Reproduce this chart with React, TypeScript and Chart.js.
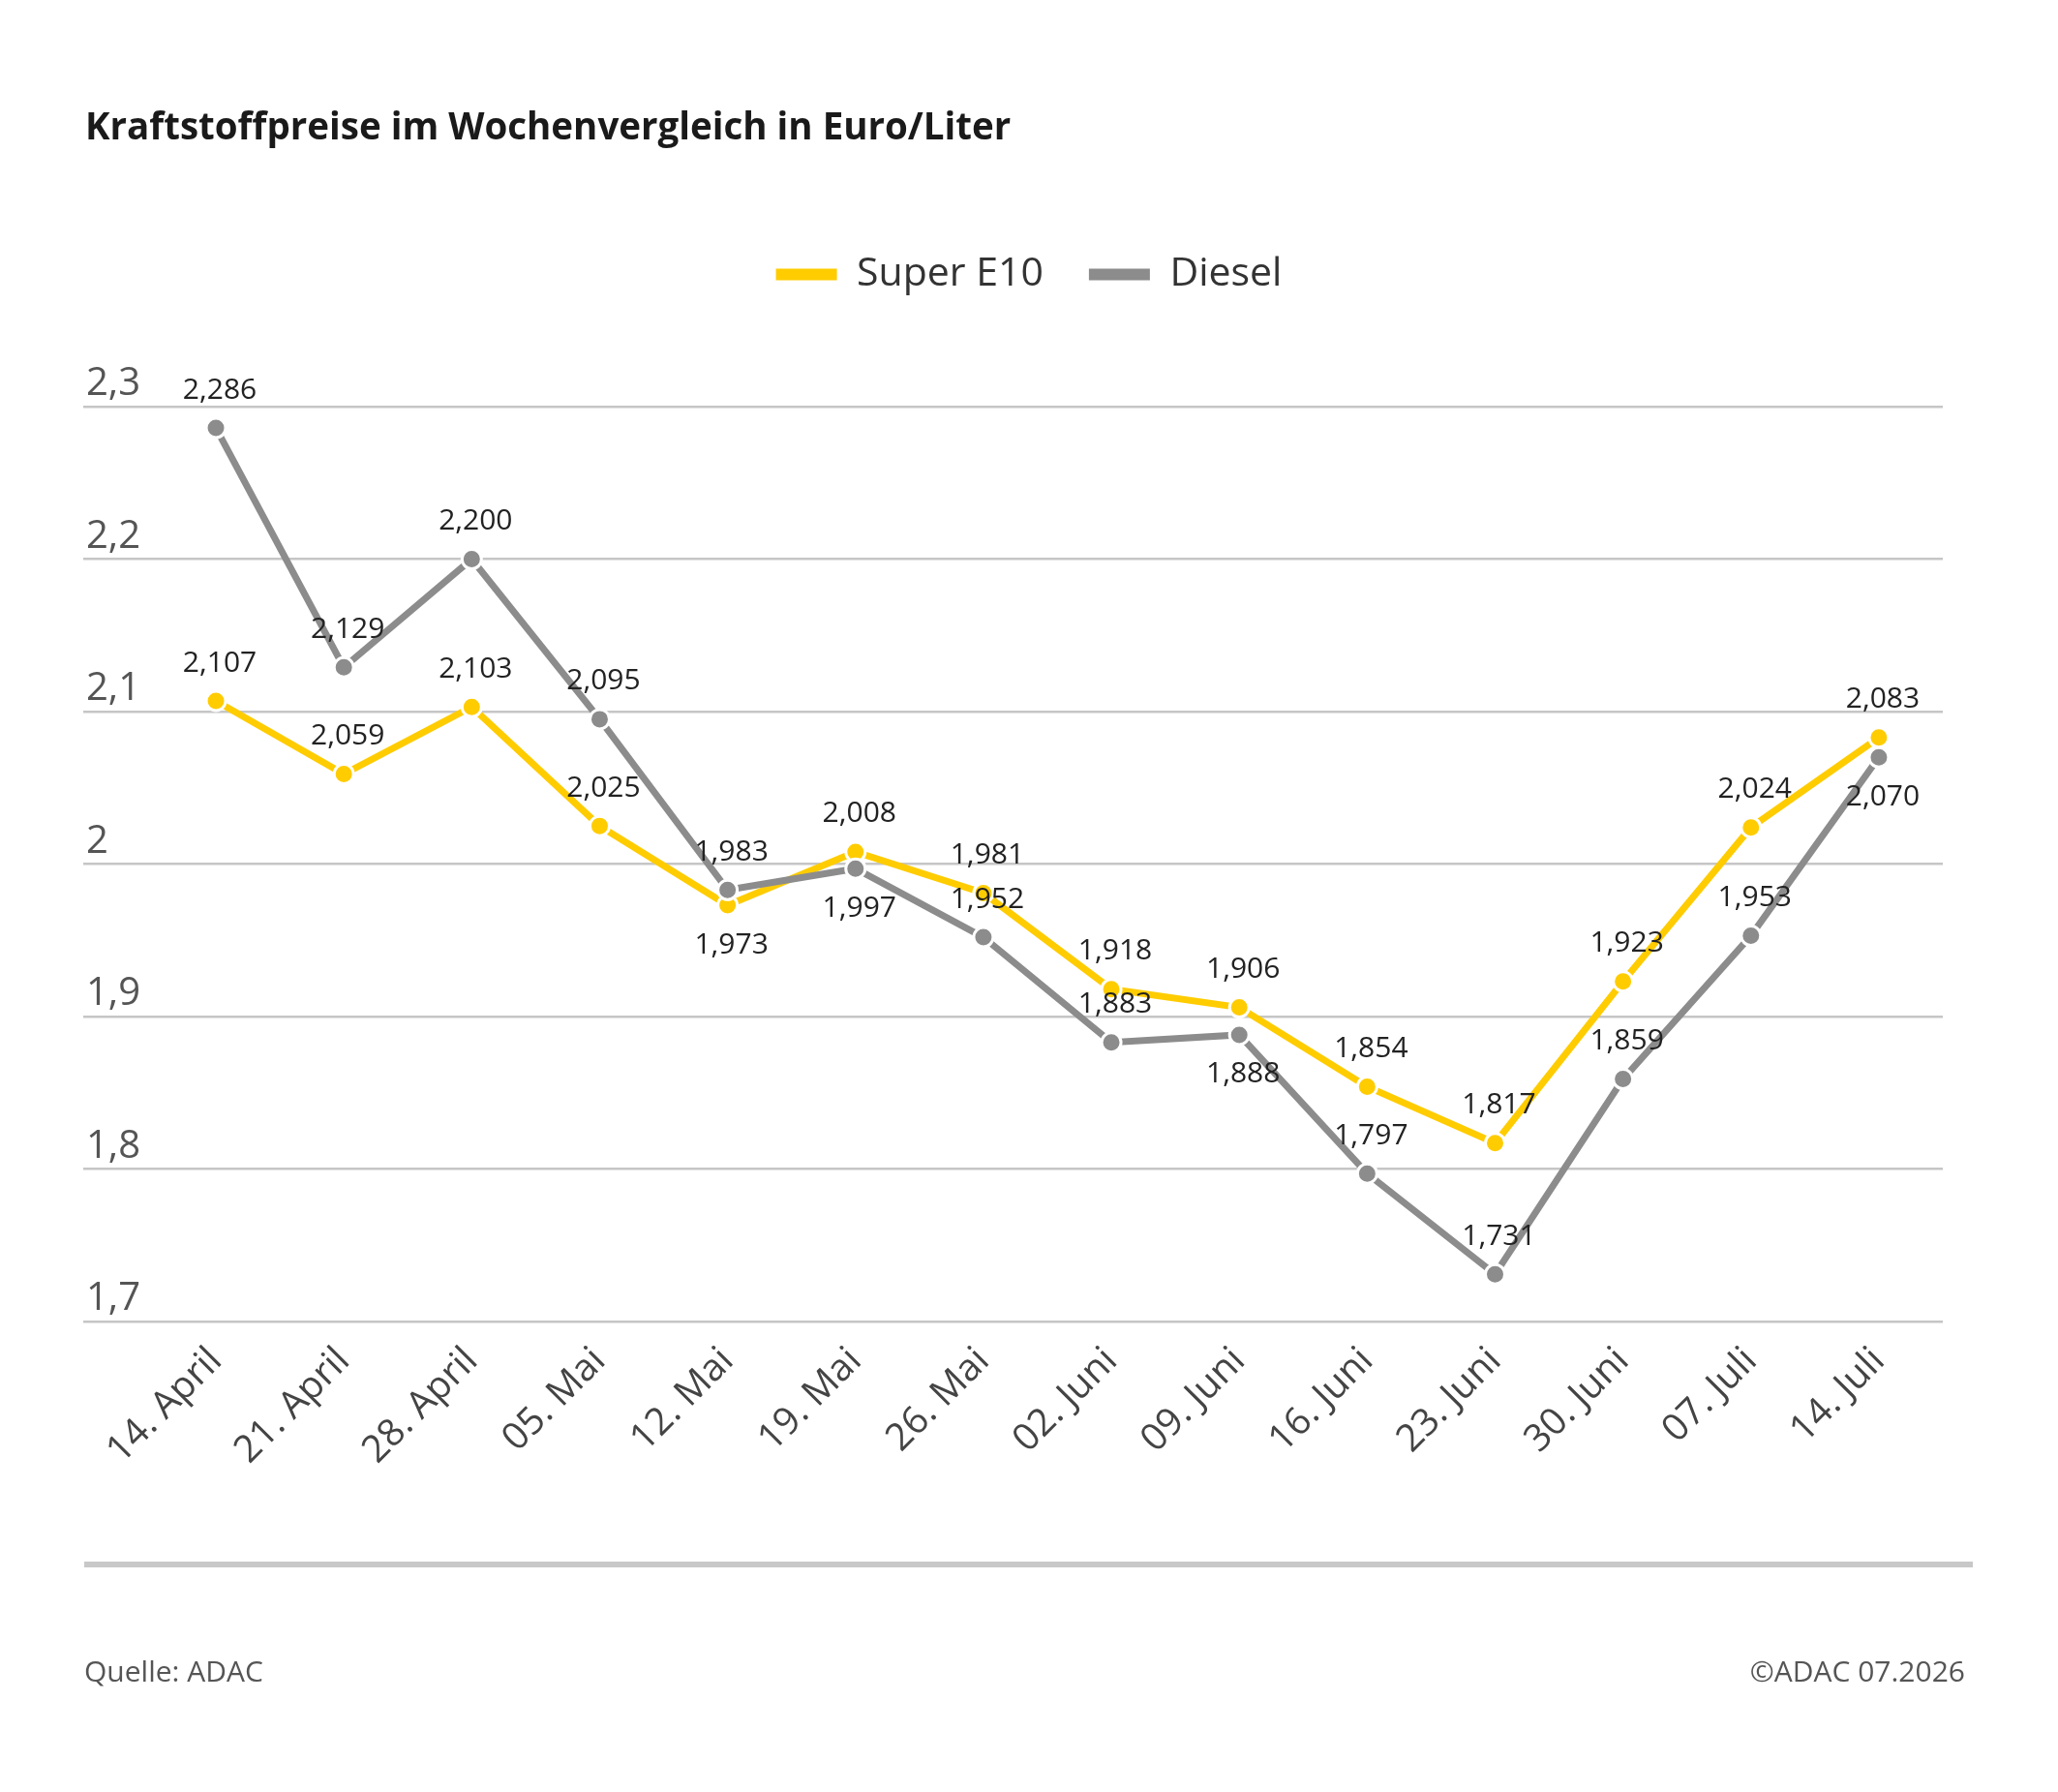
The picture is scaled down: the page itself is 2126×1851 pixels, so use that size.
import { useEffect, useRef } from "react";
import { Chart, registerables, type ChartConfiguration } from "chart.js";

Chart.register(...registerables);

const weeks = [
  "14. April",
  "21. April",
  "28. April",
  "05. Mai",
  "12. Mai",
  "19. Mai",
  "26. Mai",
  "02. Juni",
  "09. Juni",
  "16. Juni",
  "23. Juni",
  "30. Juni",
  "07. Juli",
  "14. Juli",
];

const superE10 = [
  2.107, 2.059, 2.103, 2.025, 1.973, 2.008, 1.981, 1.918, 1.906, 1.854, 1.817,
  1.923, 2.024, 2.083,
];

const diesel = [
  2.286, 2.129, 2.2, 2.095, 1.983, 1.997, 1.952, 1.883, 1.888, 1.797, 1.731,
  1.859, 1.953, 2.07,
];

// indices whose value label sits under the point instead of above it
const superE10LabelsBelow = [4];
const dieselLabelsBelow = [5, 8, 13];

const YELLOW = "#ffcc00";
const GREY = "#8c8c8c";
const FONT = "'Open Sans', sans-serif";

function formatComma(value: number, digits: number) {
  return value.toFixed(digits).replace(".", ",");
}

const valueLabels = {
  id: "valueLabels",
  afterDatasetsDraw(chart: Chart) {
    const { ctx } = chart;
    const below = [superE10LabelsBelow, dieselLabelsBelow];
    ctx.save();
    ctx.font = `30px ${FONT}`;
    ctx.fillStyle = "#222";
    ctx.textAlign = "center";
    ctx.textBaseline = "middle";
    chart.data.datasets.forEach((dataset, di) => {
      const meta = chart.getDatasetMeta(di);
      meta.data.forEach((point, i) => {
        const raw = dataset.data[i] as { y: number };
        const dy = below[di].includes(i) ? 41 : -39;
        ctx.fillText(formatComma(raw.y, 3), point.x + 4, point.y + dy);
      });
    });
    ctx.restore();
  },
};

// extra room between legend and plot area, legend centred on the page
const legendSpacing = {
  id: "legendSpacing",
  beforeInit(chart: Chart) {
    const legend = (chart as any).legend;
    const fit = legend.fit;
    legend.fit = function () {
      fit.call(this);
      this.height += 106;
    };
  },
  afterLayout(chart: Chart) {
    const legend = (chart as any).legend;
    const shift = (chart.width - legend.left - legend.right) / 2;
    legend.left += shift;
    legend.right += shift;
  },
};

export default function App() {
  const canvasRef = useRef<HTMLCanvasElement | null>(null);

  useEffect(() => {
    const canvas = canvasRef.current;
    if (!canvas) return;

    const config: ChartConfiguration<"line"> = {
      type: "line",
      data: {
        datasets: [
          {
            label: "Super E10",
            data: superE10.map((y, x) => ({ x, y })),
            borderColor: YELLOW,
            backgroundColor: YELLOW,
            pointBackgroundColor: YELLOW,
            pointBorderColor: "#fff",
            borderWidth: 7,
            pointRadius: 10,
            pointBorderWidth: 3,
            tension: 0,
            order: 1,
          },
          {
            label: "Diesel",
            data: diesel.map((y, x) => ({ x, y })),
            borderColor: GREY,
            backgroundColor: GREY,
            pointBackgroundColor: GREY,
            pointBorderColor: "#fff",
            borderWidth: 7,
            pointRadius: 10,
            pointBorderWidth: 3,
            tension: 0,
            order: 0,
          },
        ],
      },
      options: {
        animation: false,
        responsive: true,
        maintainAspectRatio: false,
        events: [],
        layout: {
          padding: { left: 86, right: 119, top: 216, bottom: 0 },
        },
        plugins: {
          tooltip: { enabled: false },
          title: { display: false },
          legend: {
            position: "top",
            labels: {
              boxWidth: 63,
              boxHeight: 12,
              padding: 47,
              color: "#333",
              font: { family: FONT, size: 41 },
              generateLabels(chart) {
                return Chart.defaults.plugins.legend.labels
                  .generateLabels(chart)
                  .sort((a, b) => (a.datasetIndex ?? 0) - (b.datasetIndex ?? 0))
                  .map((item) => ({
                    ...item,
                    fillStyle: item.strokeStyle,
                    lineWidth: 0,
                  }));
              },
            },
          },
        },
        scales: {
          x: {
            type: "linear",
            min: -1.037,
            max: 13.5,
            grid: { display: false },
            border: { display: false },
            afterBuildTicks(scale) {
              scale.ticks = weeks.map((_, i) => ({ value: i }));
            },
            afterFit(scale) {
              scale.height = 1851 - 1365;
              scale.paddingLeft = 0;
              scale.paddingRight = 0;
            },
            ticks: {
              autoSkip: false,
              minRotation: 45,
              maxRotation: 45,
              padding: 10,
              color: "#444",
              font: { family: FONT, size: 39 },
              callback(value) {
                return weeks[Number(value)] ?? "";
              },
            },
          },
          y: {
            min: 1.7,
            max: 2.3,
            grid: { color: "#c6c6c6", lineWidth: 2.5, drawTicks: false },
            border: { display: false },
            afterFit(scale) {
              scale.width = 0;
              scale.paddingTop = 0;
              scale.paddingBottom = 0;
            },
            ticks: {
              stepSize: 0.1,
              mirror: true,
              padding: 3,
              labelOffset: -23,
              color: "#555",
              font: { family: FONT, size: 40 },
              callback(value) {
                return String(Math.round(Number(value) * 10) / 10).replace(".", ",");
              },
            },
          },
        },
      },
      plugins: [valueLabels, legendSpacing],
    };

    const chart = new Chart(canvas, config);
    return () => chart.destroy();
  }, []);

  return (
    <div
      style={{
        position: "absolute",
        left: 0,
        top: 0,
        width: 2126,
        height: 1851,
        background: "#fff",
        fontFamily: FONT,
      }}
    >
      <div style={{ position: "absolute", inset: 0 }}>
        <canvas ref={canvasRef} role="img" aria-label="Kraftstoffpreise im Wochenvergleich" />
      </div>
      <div
        style={{
          position: "absolute",
          left: 88,
          top: 110,
          fontSize: 38.5,
          lineHeight: 1,
          fontWeight: 700,
          color: "#1a1a1a",
          whiteSpace: "nowrap",
        }}
      >
        Kraftstoffpreise im Wochenvergleich in Euro/Liter
      </div>
      <div
        style={{
          position: "absolute",
          left: 87,
          top: 1613,
          width: 1951,
          height: 6,
          background: "#c8c8c8",
        }}
      />
      <div
        style={{
          position: "absolute",
          left: 87,
          top: 1711,
          fontSize: 30,
          lineHeight: 1,
          color: "#555",
        }}
      >
        Quelle: ADAC
      </div>
      <div
        style={{
          position: "absolute",
          right: 96,
          top: 1711,
          fontSize: 30,
          lineHeight: 1,
          color: "#555",
        }}
      >
        ©ADAC 07.2026
      </div>
    </div>
  );
}
